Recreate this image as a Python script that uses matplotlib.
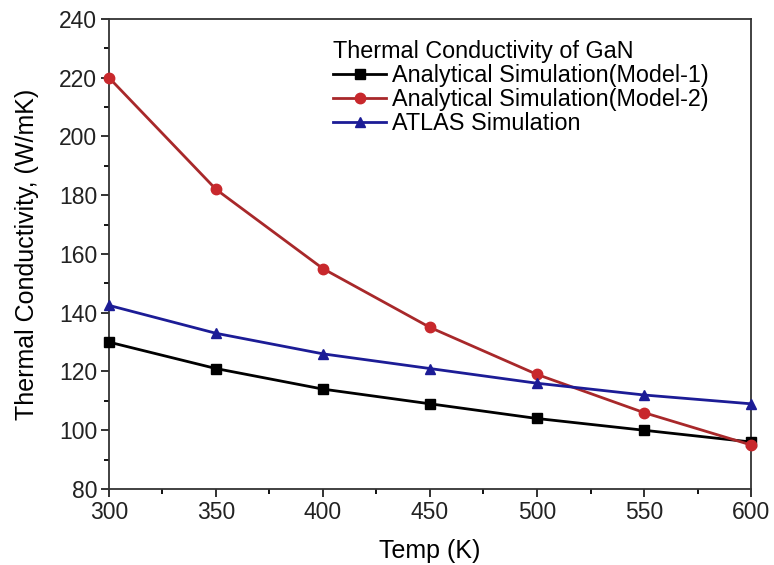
import numpy as np
import matplotlib
matplotlib.use("Agg")
import matplotlib.pyplot as plt
from matplotlib.ticker import MultipleLocator

plt.rcParams["font.family"] = ["Liberation Sans", "DejaVu Sans"]

temps = [300, 350, 400, 450, 500, 550, 600]
model1 = [130, 121, 114, 109, 104, 100, 96]
model2 = [220, 182, 155, 135, 119, 106, 95]
atlas = [142.5, 133, 126, 121, 116, 112, 109]

fig = plt.figure(figsize=(7.74, 5.65), dpi=100)
ax = fig.add_axes([0.1408, 0.1345, 0.8295, 0.832])

ax.plot(temps, model1, color="black", marker="s", markersize=6.5, linewidth=2,
        label="Analytical Simulation(Model-1)", clip_on=False, zorder=3)
ax.plot(temps, model2, color="#a8282a", marker="o", markersize=7.5, linewidth=2,
        markerfacecolor="#c8282c", markeredgecolor="#c8282c",
        label="Analytical Simulation(Model-2)", clip_on=False, zorder=3)
ax.plot(temps, atlas, color="#1c1c96", marker="^", markersize=7.5, linewidth=2,
        label="ATLAS Simulation", clip_on=False, zorder=3)

ax.set_xlim(300, 600)
ax.set_ylim(80, 240)
ax.xaxis.set_major_locator(MultipleLocator(50))
ax.xaxis.set_minor_locator(MultipleLocator(25))
ax.yaxis.set_major_locator(MultipleLocator(20))
ax.yaxis.set_minor_locator(MultipleLocator(10))
ax.tick_params(which="major", direction="out", length=6, width=1.3, labelsize=16.5,
               colors="#222222", pad=2.5)
ax.tick_params(which="minor", direction="out", length=3.5, width=1.3)
for s in ax.spines.values():
    s.set_linewidth(1.3)
    s.set_color("#333333")

ax.set_xlabel("Temp (K)", fontsize=18, labelpad=11)
ax.set_ylabel("Thermal Conductivity, (W/mK)", fontsize=18, labelpad=14)

leg = ax.legend(title="Thermal Conductivity of GaN", loc="upper left",
                bbox_to_anchor=(0.334, 0.976), frameon=False, fontsize=16.8,
                title_fontsize=16.8, handlelength=2.3, handletextpad=0.25,
                labelspacing=0.05, borderaxespad=0)
leg._legend_box.align = "left"

fig.savefig("out.png", dpi=100)
